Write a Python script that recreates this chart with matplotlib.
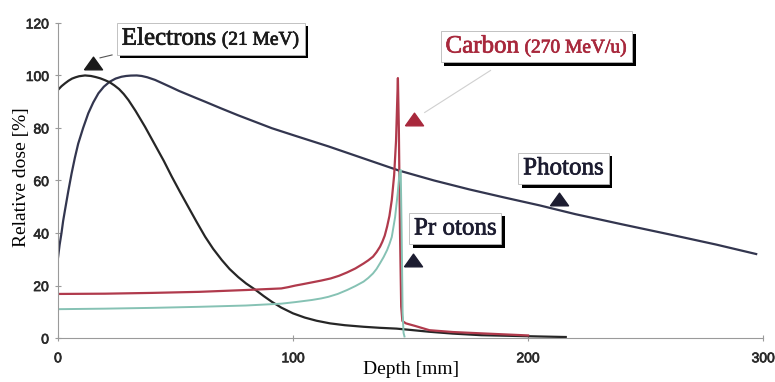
import numpy as np
import matplotlib
matplotlib.use("Agg")
import matplotlib.pyplot as plt
import matplotlib.patheffects as pe
from matplotlib.offsetbox import TextArea, HPacker, AnnotationBbox

# depth-dose curves (depth in mm, dose in %)
photon_depth = [0, 0.7, 1.5, 2.2, 3, 4.4, 5.8, 7.2, 8.6, 10.7, 12.9, 15, 17.2, 19.5, 22, 24.5,
                27, 29, 31, 33.5, 35.6, 38, 41.3, 44.5, 48.4, 51.5, 55, 58.5, 62.6, 69, 76.7,
                84, 91, 101, 115, 130, 145, 160, 175, 190, 205, 220, 240, 260, 280, 297]
photon_dose = [30.5, 35.5, 40, 44.6, 48.8, 56, 62.7, 68.7, 74, 80, 85.6, 89.7, 93.2, 95.7,
               97.6, 98.8, 99.5, 99.8, 99.95, 100, 99.8, 99.3, 98.3, 97.0, 95.4, 94.1, 92.8,
               91.5, 90, 87.6, 84.8, 82.3, 79.9, 77.0, 73, 68.4, 63.8, 60, 56.6, 53.5, 50.5,
               47.2, 43.3, 39.5, 35.6, 32]

electron_depth = [0, 1.5, 3, 4.5, 6, 7.5, 9, 11.5, 14, 16, 18, 20, 22, 24, 26, 28, 30, 33, 37,
                  41, 45, 48.4, 52, 55.4, 59, 62.6, 66, 69.7, 73, 76.7, 80, 83.8, 87.5, 91, 95,
                  100, 105, 110, 115.7, 122, 130, 137, 144, 150, 158, 168, 180, 195, 205, 216]
electron_dose = [94.5, 95.9, 97, 98, 98.8, 99.3, 99.7, 100, 99.8, 99.4, 98.9, 98.2, 97.4, 96.2,
                 94.8, 92.9, 90.6, 86.5, 80.5, 74, 67.5, 61.5, 55.5, 50, 44.2, 38.6, 34, 29.7,
                 26.3, 23.2, 20.8, 18.5, 16, 13.8, 11.6, 9.4, 7.8, 6.6, 5.6, 4.9, 4.3, 3.9,
                 3.6, 3.1, 2.4, 1.7, 1.1, 0.8, 0.6, 0.4]

carbon_depth = [0, 20, 40, 60, 80, 95, 98, 101, 104, 108, 112, 116, 119.5, 123, 126.5, 130,
                132, 134, 135.5, 137, 138, 139, 140, 141, 142, 143, 143.8, 144.3, 144.6,
                145.0, 145.5, 146, 146.5, 148, 152, 158, 168, 180, 190, 200]
carbon_dose = [16.8, 16.9, 17.2, 17.6, 18.3, 18.9, 19.4, 20, 20.5, 21.2, 21.9, 22.7, 23.7, 25,
               26.5, 28.4, 29.6, 31, 32.7, 34.8, 36.7, 39, 42.4, 46.5, 52.6, 62, 75, 90, 99,
               80, 40, 12, 6.5, 5.6, 4.6, 3, 2.3, 1.8, 1.4, 1.0]

proton_depth = [0, 20, 40, 60, 80, 95, 101, 108, 112, 115, 119, 123, 126.5, 130, 132, 134,
                135.5, 137, 138.5, 140, 141, 142, 143.4, 144.5, 145.3, 145.8, 146.2, 146.6,
                147, 147.4]
proton_dose = [11, 11.2, 11.5, 11.9, 12.4, 13.1, 13.7, 14.5, 15.1, 15.7, 16.8, 18.3, 19.8,
               21.5, 22.9, 24.6, 26.3, 28.5, 30.8, 33.5, 35.8, 38.5, 46, 55, 63, 64, 40, 10,
               2, 0.6]

# label boxes: (text parts, box centre, marker position, colour)
labels = [
    ([("Electrons", 18), ("(21 MeV)", 14)], (65, 114), (15.0, 104.6), "#1a1a1a"),
    ([("Carbon", 18), ("(270 MeV/u)", 14)], (203.5, 111), (151.5, 83.4), "#a8283c"),
    ([("Photons", 18)], (215, 64.6), (213.2, 52.8), "#1c1c30"),
    ([("Pr otons", 18)], (169, 41.7), (150.9, 29.7), "#1c1c30"),
]
leaders = [
    ((17.9, 106.7), (23.0, 107.8), "#555555"),
    ((156, 85.9), (184, 101.9), "#d0d0d0"),
]

serif = "Liberation Serif"
sans = "Liberation Sans"

fig = plt.figure(figsize=(7.75, 3.82), dpi=100)
ax = fig.add_axes([0.0748, 0.115, 0.91, 0.825])

ax.plot(photon_depth, photon_dose, color="#33364f", lw=1.6)
ax.plot(electron_depth, electron_dose, color="#262626", lw=1.6)
ax.plot(carbon_depth, carbon_dose, color="#b03a4c", lw=1.6)
ax.plot(proton_depth, proton_dose, color="#86c2b4", lw=1.4)

ax.set_xlim(0, 300)
ax.set_ylim(0, 120)
ax.set_xticks([0, 100, 200, 300])
ax.set_yticks(range(0, 121, 20))
for s in ["top", "right"]:
    ax.spines[s].set_visible(False)
for s in ["left", "bottom"]:
    ax.spines[s].set_color("#9a9a9a")
    ax.spines[s].set_linewidth(0.8)
ax.tick_params(direction="inout", length=5, width=0.8, color="#9a9a9a",
               labelsize=10, labelcolor="#2a2a2a", pad=4)
ax.tick_params(axis="x", pad=7)
thick = [pe.withStroke(linewidth=0.5, foreground="#2a2a2a")]
for t in ax.get_xticklabels() + ax.get_yticklabels():
    t.set_family(sans)
    t.set_path_effects(thick)

ax.set_xlabel("Depth [mm]", family=serif, fontsize=14, labelpad=-3)
ax.set_ylabel("Relative dose [%]", family=serif, fontsize=14)
ax.yaxis.set_label_coords(-0.04, 0.51)

tri = [(-1, -0.7), (1, -0.7), (0, 0.7), (-1, -0.7)]
for parts, box_xy, mark_xy, col in labels:
    areas = [TextArea(t, textprops=dict(fontsize=s, color=col, family=serif,
                                        path_effects=[pe.withStroke(linewidth=0.5, foreground=col)]))
             for t, s in parts]
    pack = HPacker(children=areas, align="baseline", pad=0, sep=4)
    ab = AnnotationBbox(pack, box_xy, xycoords="data", frameon=True,
                        bboxprops=dict(boxstyle="square,pad=0.35", fc="white",
                                       ec="#b8b8b8", lw=0.6))
    ab.patch.set_path_effects([pe.SimplePatchShadow(offset=(2.5, -2.5),
                                                    shadow_rgbFace="black", alpha=1.0),
                               pe.Normal()])
    ax.add_artist(ab)
    ax.plot(*mark_xy, marker=tri, markersize=13, color=col, zorder=5, clip_on=False)

for p0, p1, col in leaders:
    ax.plot([p0[0], p1[0]], [p0[1], p1[1]], color=col, lw=0.8, zorder=1, clip_on=False)

fig.savefig("out.png", dpi=100)
